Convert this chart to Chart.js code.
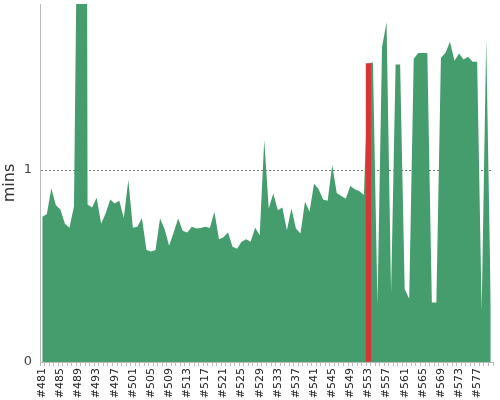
<!DOCTYPE html>
<html>
<head>
<meta charset="utf-8">
<script src="https://cdn.jsdelivr.net/npm/chart.js@4.4.1/dist/chart.umd.min.js"></script>
<style>
  html, body { margin: 0; padding: 0; background: #fff; }
  #wrap { width: 500px; height: 400px; }
</style>
</head>
<body>
<div id="wrap"><canvas id="buildChart"></canvas></div>
<script>
(function () {
  "use strict";

  // build numbers on the x axis
  var builds = [
    "#481", "#482", "#483", "#484", "#485", "#486", "#487", "#488", "#489", "#490",
    "#491", "#492", "#493", "#494", "#495", "#496", "#497", "#498", "#499", "#500",
    "#501", "#502", "#503", "#504", "#505", "#506", "#507", "#508", "#509", "#510",
    "#511", "#512", "#513", "#514", "#515", "#516", "#517", "#518", "#519", "#520",
    "#521", "#522", "#523", "#524", "#525", "#526", "#527", "#528", "#529", "#530",
    "#531", "#532", "#533", "#534", "#535", "#536", "#537", "#538", "#539", "#540",
    "#541", "#542", "#543", "#544", "#545", "#546", "#547", "#548", "#549", "#550",
    "#551", "#552", "#553", "#554", "#555", "#556", "#557", "#558", "#559", "#560",
    "#561", "#562", "#563", "#564", "#565", "#566", "#567", "#568", "#569", "#570",
    "#571", "#572", "#573", "#574", "#575", "#576", "#577", "#578", "#579", "#580"
  ];

  // build duration in minutes, one per build
  var minutes = [
    0.757, 0.77, 0.905, 0.816, 0.795, 0.72, 0.70, 0.81, 3.0, 12,
    0.82, 0.805, 0.856, 0.72, 0.775, 0.847, 0.826, 0.84, 0.75, 0.948,
    0.70, 0.705, 0.75, 0.583, 0.575, 0.583, 0.748, 0.693, 0.605, 0.675,
    0.748, 0.684, 0.674, 0.705, 0.696, 0.698, 0.705, 0.698, 0.783, 0.64,
    0.65, 0.675, 0.60, 0.59, 0.627, 0.64, 0.627, 0.70, 0.66, 1.156,
    0.80, 0.878, 0.79, 0.805, 0.687, 0.80, 0.696, 0.67, 0.835, 0.783,
    0.93, 0.90, 0.847, 0.84, 1.026, 0.88, 0.865, 0.85, 0.917, 0.90,
    0.89, 0.87, 1.555, 1.56, 0.30, 1.64, 1.77, 0.36, 1.55, 1.55,
    0.38, 0.33, 1.58, 1.61, 1.61, 1.61, 0.31, 0.31, 1.585, 1.61,
    1.668, 1.57, 1.607, 1.576, 1.59, 1.564, 1.564, 0.27, 1.68, 0.30
  ];

  // the highlighted (current) build
  var currentBuild = "#553";
  var currentMinutes = 1.555;

  var yTicks = [0, 1];
  var yMax = 1.865;

  var GREEN = "#459c6c";
  var RED = "#d63636";

  Chart.defaults.font.family = "'DejaVu Sans', sans-serif";

  var highlight = builds.map(function (b) {
    return b === currentBuild ? currentMinutes : null;
  });

  var canvas = document.getElementById("buildChart");

  new Chart(canvas.getContext("2d"), {
    type: "bar",
    data: {
      labels: builds,
      datasets: [
        {
          type: "line",
          label: "duration",
          data: minutes,
          backgroundColor: GREEN,
          borderColor: "rgba(0,0,0,0)",
          borderWidth: 0,
          pointRadius: 0,
          fill: "origin",
          tension: 0,
          order: 1,
        },
        {
          type: "bar",
          label: "current",
          data: highlight,
          backgroundColor: RED,
          categoryPercentage: 1,
          barPercentage: 1,
          order: 0,
        },
      ],
    },
    options: {
      responsive: true,
      maintainAspectRatio: false,
      animation: false,
      layout: { padding: { left: 0, right: 7, top: 4, bottom: 0 } },
      scales: {
        x: {
          offset: true,
          grid: { drawOnChartArea: false, offset: true, tickLength: 4, color: "#bbb" },
          border: { display: true, color: "#bbb" },
          ticks: {
            autoSkip: false,
            maxRotation: 90,
            minRotation: 90,
            padding: 2,
            color: "#222",
            font: { size: 11 },
            callback: function (v, i) {
              return i % 4 === 0 ? this.getLabelForValue(v) : "";
            },
          },
          afterFit: function (s) {
            s.height = 38;
            s.paddingLeft = 0;
            s.paddingRight = 0;
          },
        },
        y: {
          min: 0,
          max: yMax,
          afterBuildTicks: function (s) {
            s.ticks = yTicks.map(function (v) { return { value: v }; });
          },
          ticks: { padding: 8, color: "#444", font: { size: 13 } },
          grid: {
            drawTicks: false,
            color: function (c) {
              return c.tick && c.tick.value === 1 ? "#777" : "rgba(0,0,0,0)";
            },
          },
          border: { display: true, color: "#bbb", dash: [2, 2] },
          title: {
            display: true,
            text: "mins",
            color: "#333",
            font: { size: 16 },
            padding: { top: 0, bottom: 0 },
          },
          afterFit: function (s) {
            s.width = 40;
            s.paddingTop = 0;
            s.paddingBottom = 0;
          },
        },
      },
      plugins: {
        legend: { display: false },
        tooltip: { enabled: false },
      },
    },
  });
})();
</script>
</body>
</html>
